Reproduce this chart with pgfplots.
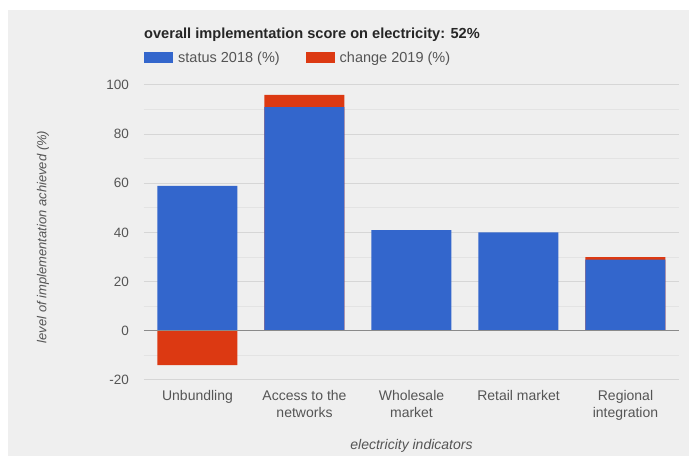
\documentclass[border=0pt]{standalone}
\usepackage{pgfplots}
\pgfplotsset{compat=1.18}
\usepackage{fontspec}
\setmainfont{Liberation Sans}
\definecolor{gblue}{HTML}{3366CC}
\definecolor{gred}{HTML}{DC3912}
\definecolor{panel}{HTML}{EFEFEF}
\definecolor{txt}{HTML}{555555}
\definecolor{gridmaj}{HTML}{D6D6D6}
\definecolor{gridmin}{HTML}{E3E3E3}
\definecolor{basec}{HTML}{8A8A8A}
\begin{document}
\begin{tikzpicture}[x=1pt,y=1pt]
\useasboundingbox (0,0) rectangle (689,458);
\fill[white] (0,0) rectangle (689,458);
\fill[panel] (8,2) rectangle (689,448);
\node[anchor=base west, inner sep=0pt, font=\fontsize{14.6}{16}\bfseries\selectfont, text=black!85] at (144,419) {overall implementation score on electricity: 52\%};
\begin{axis}[
  at={(144pt,78pt)}, anchor=south west,
  scale only axis, width=535pt, height=295pt,
  xmin=-0.5, xmax=4.5, ymin=-20, ymax=100,
  axis line style={draw=none},
  major tick length=0pt, minor tick length=0pt,
  xtick={0,1,2,3,4},
  xticklabels={Unbundling,{Access to the\\networks},{Wholesale\\market},Retail market,{Regional\\integration}},
  xticklabel style={align=center, anchor=north, inner sep=0pt, yshift=-10pt, font=\fontsize{14}{17}\selectfont, text=txt},
  ytick={-20,0,20,40,60,80,100},
  minor ytick={-10,10,30,50,70,90},
  ymajorgrids, yminorgrids,
  major grid style={gridmaj, line width=1pt},
  minor grid style={gridmin, line width=1pt},
  yticklabel style={anchor=east, inner sep=0pt, xshift=-15pt, font=\fontsize{13.5}{16}\selectfont, text=txt},
  /pgf/number format/assume math mode=true,
  ylabel={level of implementation achieved (\%)},
  ylabel style={at={(axis description cs:-0.1888,0.485)}, anchor=center, font=\fontsize{13}{15}\itshape\selectfont, text=txt},
  xlabel={electricity indicators},
  xlabel style={at={(axis description cs:0.5,0)}, anchor=base, yshift=-70pt, font=\fontsize{14}{16}\itshape\selectfont, text=txt},
  legend columns=2,
  legend image code/.code={\fill[#1] (0pt,-5.5pt) rectangle (29pt,5.5pt); \path (34pt,0pt);},
  legend style={at={(axis description cs:0,1)}, anchor=west, yshift=27.5pt, draw=none, fill=none, inner sep=0pt, nodes={inner sep=0pt}, font=\fontsize{14.5}{16}\selectfont, text=txt, /tikz/every even column/.append style={column sep=26pt}},
  legend cell align=left,
]
\addlegendimage{fill=gblue, draw=none}
\addlegendentry{status 2018 (\%)}
\addlegendimage{fill=gred, draw=none}
\addlegendentry{change 2019 (\%)}
% change 2019: top of the red segment (Access 91+5, Regional 29+1), Unbundling -14
\addplot[ybar, bar width=80pt, bar shift=0pt, fill=gred, draw=none, forget plot] coordinates {(0,-14) (1,96) (4,30)};
% status 2018
\addplot[ybar, bar width=80pt, bar shift=0pt, fill=gblue, draw=none, forget plot] coordinates {(0,59) (1,91) (2,41) (3,40) (4,29)};
\addplot[basec, line width=1pt, forget plot] coordinates {(-0.5,0) (4.5,0)};
\end{axis}
\end{tikzpicture}
\end{document}
